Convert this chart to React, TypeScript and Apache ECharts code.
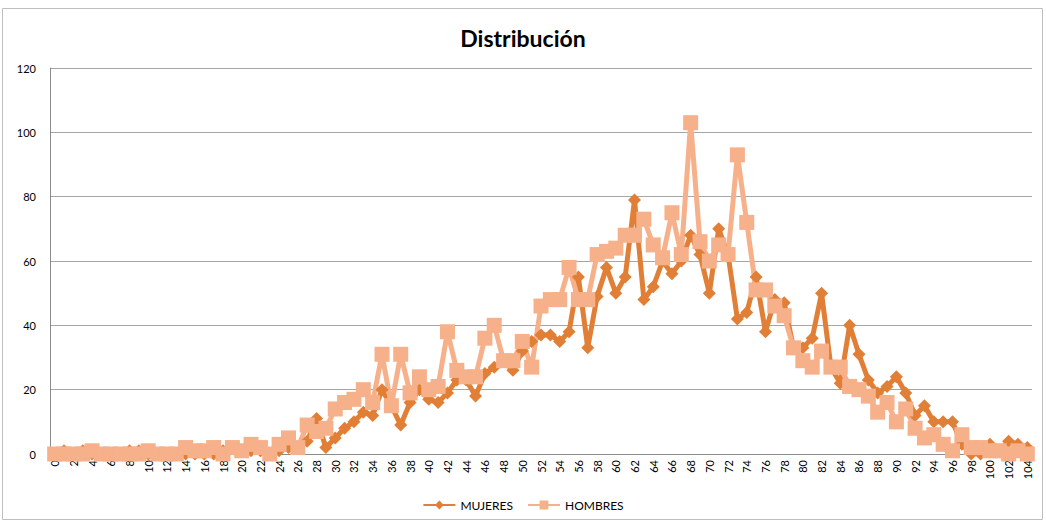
import React, { useEffect, useRef } from "react";
import * as echarts from "echarts";

const categories: string[] = Array.from({ length: 105 }, (_, i) => String(i));

const mujeres: number[] = [
  0, 1, 0, 1, 0, 0, 0, 0, 1, 1,
  0, 0, 0, 0, 0, 0, 0, 0, 1, 2,
  1, 1, 1, 0, 1, 2, 2, 4, 11, 2,
  5, 8, 10, 13, 12, 20, 15, 9, 16, 20,
  17, 16, 19, 23, 23, 18, 25, 27, 29, 26,
  32, 35, 37, 37, 35, 38, 55, 33, 49, 58,
  50, 55, 79, 48, 52, 60, 56, 60, 68, 62,
  50, 70, 62, 42, 44, 55, 38, 48, 47, 33,
  33, 36, 50, 27, 22, 40, 31, 23, 19, 21,
  24, 19, 12, 15, 10, 10, 10, 3, 0, 0,
  3, 1, 4, 3, 2,
];

const hombres: number[] = [
  0, 0, 0, 0, 1, 0, 0, 0, 0, 0,
  1, 0, 0, 0, 2, 1, 1, 2, 0, 2,
  1, 3, 2, 0, 3, 5, 2, 9, 7, 8,
  14, 16, 17, 20, 16, 31, 15, 31, 19, 24,
  20, 21, 38, 26, 24, 24, 36, 40, 29, 29,
  35, 27, 46, 48, 48, 58, 48, 48, 62, 63,
  64, 68, 68, 73, 65, 61, 75, 62, 103, 66,
  60, 65, 62, 93, 72, 51, 51, 46, 43, 33,
  29, 27, 32, 27, 27, 21, 20, 18, 13, 16,
  10, 14, 8, 5, 6, 3, 1, 6, 2, 2,
  1, 1, 0, 1, 0,
];

const yTicks = { min: 0, max: 120, interval: 20 };

export default function App() {
  const ref = useRef<HTMLDivElement>(null);
  useEffect(() => {
    if (!ref.current) return;
    const chart = echarts.init(ref.current, null, { renderer: "svg" });
    const font = "Lato, 'Open Sans', sans-serif";
    chart.setOption({
      animation: false,
      backgroundColor: "#ffffff",
      textStyle: { fontFamily: font },
      title: {
        text: "Distribución",
        left: "center",
        top: 21,
        textStyle: { fontSize: 23, fontWeight: "bold", color: "#000", fontFamily: font },
      },
      graphic: [
        {
          type: "rect",
          shape: { x: 2.5, y: 8.5, width: 1040, height: 511 },
          style: { fill: "none", stroke: "#bfbfbf", lineWidth: 1 },
          silent: true,
        },
      ],
      legend: {
        bottom: 6,
        left: "center",
        itemWidth: 32,
        itemHeight: 11,
        itemGap: 14,
        textStyle: { fontSize: 12, color: "#000", fontFamily: font },
        data: ["MUJERES", "HOMBRES"],
      },
      grid: { left: 50, right: 14, top: 68, bottom: 68, containLabel: false },
      xAxis: {
        type: "category",
        data: categories,
        boundaryGap: true,
        axisLine: { lineStyle: { color: "#8c8c8c" } },
        axisTick: { show: false },
        axisLabel: { rotate: 90, interval: 1, fontSize: 11, color: "#000", margin: 6 },
      },
      yAxis: {
        type: "value",
        min: yTicks.min,
        max: yTicks.max,
        interval: yTicks.interval,
        axisLine: { show: true, lineStyle: { color: "#8c8c8c" } },
        axisTick: { show: false },
        axisLabel: { fontSize: 11, color: "#000", margin: 14 },
        splitLine: { lineStyle: { color: "#a6a6a6" } },
      },
      series: [
        {
          name: "MUJERES",
          type: "line",
          data: mujeres,
          symbol: "diamond",
          symbolSize: 13,
          showAllSymbol: true,
          lineStyle: { width: 5, color: "#e07f35" },
          itemStyle: { color: "#e07f35" },
        },
        {
          name: "HOMBRES",
          type: "line",
          data: hombres,
          symbol: "rect",
          symbolSize: 15,
          showAllSymbol: true,
          lineStyle: { width: 5, color: "#f6b08a" },
          itemStyle: { color: "#f6b08a" },
        },
      ],
    });
    return () => chart.dispose();
  }, []);
  return (
    <div
      ref={ref}
      style={{ position: "absolute", left: 0, top: 0, width: 1046, height: 522 }}
    />
  );
}
